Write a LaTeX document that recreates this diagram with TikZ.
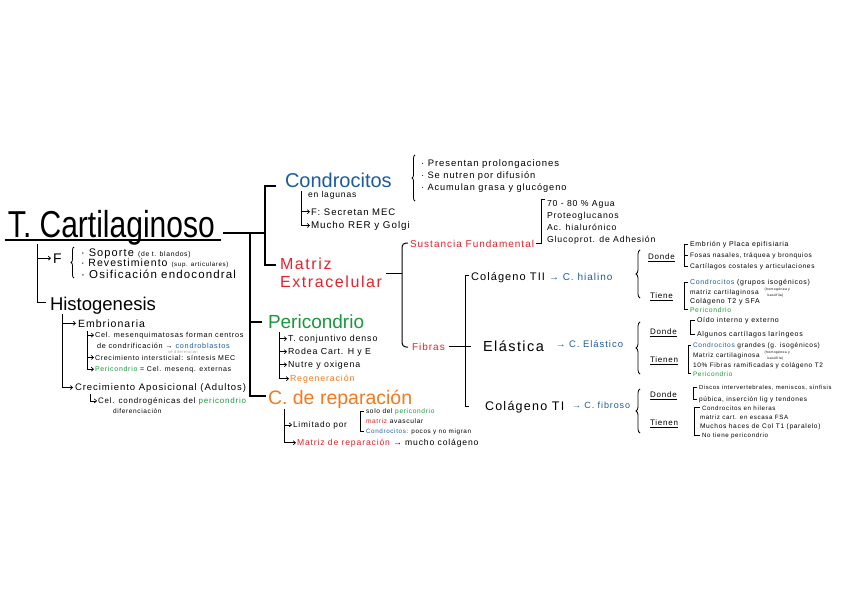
\documentclass[tikz,border=0pt]{standalone}
\usepackage{fontspec}
\setmainfont{Liberation Sans}[LetterSpace=10]
\newfontfamily\plainfont{Liberation Sans}
\usetikzlibrary{arrows.meta,decorations.pathreplacing}
\definecolor{cblue}{HTML}{1C5C9C}
\definecolor{cred}{HTML}{E3222C}
\definecolor{cgreen}{HTML}{1B973D}
\definecolor{corange}{HTML}{F27A1F}
\newcommand{\myfs}[1]{\fontsize{#1}{#1}\selectfont}
\tikzset{
  tx/.style={anchor=base west, inner sep=0pt, outer sep=0pt},
  hd/.style={tx, font=\plainfont\myfs{#1}},
  sz/.style={tx, font=\myfs{#1}},
  thickline/.style={line width=1.8pt},
  midline/.style={line width=1pt},
  thinline/.style={line width=0.7pt},
  ar/.style={line width=0.7pt, -{Straight Barb[length=2.2pt,width=4pt]}},
  brc/.style={decorate, decoration={brace, amplitude=#1}, line width=0.8pt},
  ul/.style={line width=0.7pt},
}
\begin{document}
\begin{tikzpicture}[x=1pt,y=-1pt]
\path[use as bounding box, fill=white] (0,0) rectangle (848,599);

% ---------- title and main structure
\node[hd=30] (title) at (8,237) {\scalebox{1}[1.25]{T. Cartilaginoso}};
\draw[line width=1.4pt] ([xshift=-3pt,yshift=-3pt]title.base west) -- ([xshift=6pt,yshift=-3pt]title.base east);
\coordinate (J) at (250,233);
\coordinate (K) at (265,233);
\draw[thickline] ([xshift=8pt]title.east |- J) -- (K);
\draw[thickline] (250,233) -- (250,396) -- (266,396);
\draw[thickline] (250,322) -- (262,322);
\draw[thickline] (276,186) -- (265,186) -- (265,265) -- (276,265);

% ---------- left column
\node[sz=14] (F) at (53,263) {F};
\draw[thinline] (37,244) -- (37,302) -- (46,302);
\draw[ar] (37,0 |- F.west) -- ([xshift=-2pt]F.west);
\draw[brc=3pt] (74,278) -- (74,247);
\node[sz=11] (f1) at (81,256) {· Soporte {\myfs{6.8}(de t. blandos)}};
\node[sz=10.5] (f2) at (81,266) {· Revestimiento {\myfs{6.2}(sup. articulares)}};
\node[sz=11.5] (f3) at (81,278) {· Osificación endocondral};

\node[hd=18.5] (histo) at (50,310) {Histogenesis};
\node[sz=10.5] (emb) at (78,327) {Embrionaria};
\node[sz=9.5] (apo) at (75,390) {Crecimiento Aposicional (Adultos)};
\draw[ar] (62,314) |- ([xshift=-2pt]apo.west);
\draw[ar] (62,0 |- emb.west) -- ([xshift=-2pt]emb.west);

\node[sz=7.3] (e1) at (95,337) {Cel. mesenquimatosas forman centros};
\node[sz=7.3] (e1b) at (97,348) {de condrificación → \textcolor{cblue}{condroblastos}};
\node[sz=4, text=black!35] (e1c) at (168,353) {se diferencian};
\node[sz=7] (e2) at (95,360) {Crecimiento intersticial: síntesis MEC};
\node[sz=7] (e3) at (95,371) {\textcolor{cgreen}{Pericondrio} = Cel. mesenq. externas};
\draw[ar] (87,331) |- ([xshift=-1pt]e3.west);
\draw[ar] (87,0 |- e1.west) -- ([xshift=-1pt]e1.west);
\draw[ar] (87,0 |- e2.west) -- ([xshift=-1pt]e2.west);

\node[sz=8] (a1) at (98,403) {Cel. condrogénicas del \textcolor{cgreen}{pericondrio}};
\node[sz=6.5] (a2) at (113,413) {diferenciación};
\draw[ar] (90,394) |- ([xshift=-1pt]a1.west);

% ---------- Condrocitos
\node[hd=20, text=cblue] (cond) at (285,187) {Condrocitos};
\node[sz=8.5] (lag) at (308,197) {en lagunas};
\node[sz=9.5] (c1) at (311,215) {F: Secretan MEC};
\node[sz=9.8] (c2) at (311,228) {Mucho RER y Golgi};
\draw[ar] (301,191) |- ([xshift=-1pt]c2.west);
\draw[ar] (301,0 |- c1.west) -- ([xshift=-1pt]c1.west);

\draw[brc=3pt] (415,201) -- (415,155);
\node[sz=9.5] (p1) at (421,166) {· Presentan prolongaciones};
\node[sz=9.3] (p2) at (421,178) {· Se nutren por difusión};
\node[sz=9.2] (p3) at (421,190) {· Acumulan grasa y glucógeno};

% ---------- Matriz extracelular
\node[sz=16, text=cred] (mat1) at (280,269) {Matriz};
\node[sz=16, text=cred] (mat2) at (280,287) {Extracelular};
\draw[midline] (386,273) -- (402,273);
\draw[midline, rounded corners=4pt] (408,243) -- (402,243) -- (402,347) -- (408,347);
\node[sz=10, text=cred] (sf) at (410,247) {Sustancia Fundamental};
\node[sz=10, text=cred] (fib) at (412,350) {Fibras};

\draw[thinline] ([xshift=2pt]sf.east) -- (541,0 |- sf.east) -- (541,199) -- (545,199);
\node[sz=8.7] (s1) at (547,206) {70 - 80 \% Agua};
\node[sz=8.7] (s2) at (547,218) {Proteoglucanos};
\node[sz=8.7] (s3) at (547,230) {Ac. hialurónico};
\node[sz=8.7] (s4) at (547,242) {Glucoprot. de Adhesión};

\draw[midline] ([xshift=4pt]fib.east) -- (471,0 |- fib.east);
\draw[midline] (469,275) -- (465,275) -- (465,406) -- (469,406);
\node[sz=11] (col2) at (471,280) {Colágeno TII};
\node[sz=10, text=cblue] (hial) at (549,280) {→ C. hialino};
\node[sz=14.5] (elas) at (483,351) {Elástica};
\node[sz=9.5, text=cblue] (elco) at (556,347) {→ C. Elástico};
\node[sz=12.5] (col1) at (485,410) {Colágeno TI};
\node[sz=9, text=cblue] (fibr) at (572,408) {→ C. fibroso};

% ---------- hialino
\draw[brc=4pt] (640,298) -- (640,250);
\node[sz=8] (d1) at (648,259) {Donde};
\draw[ul] ([yshift=-2pt]d1.base west) -- ([yshift=-2pt]d1.base east);
\node[sz=8] (t1) at (650,298) {Tiene};
\draw[ul] ([yshift=-2pt]t1.base west) -- ([yshift=-2pt]t1.base east);
\node[sz=7] (h1) at (690,246) {Embrión y Placa epifisiaria};
\node[sz=6.5] (h2) at (690,257) {Fosas nasales, tráquea y bronquios};
\node[sz=6.6] (h3) at (690,268) {Cartílagos costales y articulaciones};
\draw[thinline] ([xshift=-2pt]h1.west) -- (684,0 |- h1.west) -- (684,0 |- h3.west) -- ([xshift=-2pt]h3.west);
\draw[thinline] (684,0 |- h2.west) -- ([xshift=-2pt]h2.west);
\node[sz=7] (h4) at (690,284) {\textcolor{cblue}{Condrocitos} (grupos isogénicos)};
\node[sz=6.6] (h5) at (690,294) {matriz cartilaginosa};
\node[sz=3.4] (h5a) at ([xshift=6pt,yshift=3.4pt]h5.base east) {(homogénea y};
\node[sz=3.4] (h5b) at ([xshift=9pt,yshift=-2pt]h5.base east) {basófila)};
\node[sz=7] (h6) at (690,303) {Colágeno T2 y SFA};
\node[sz=6.8, text=cgreen] (h7) at (690,312) {Pericondrio};
\draw[thinline] ([xshift=-2pt]h4.west) -- (684,0 |- h4.west) -- (684,0 |- h7.west) -- ([xshift=-2pt]h7.west);

% ---------- elastico
\draw[brc=4pt] (640,374) -- (640,322);
\node[sz=8] (d2) at (650,334) {Donde};
\draw[ul] ([yshift=-2pt]d2.base west) -- ([yshift=-2pt]d2.base east);
\node[sz=8] (t2) at (650,362) {Tienen};
\draw[ul] ([yshift=-2pt]t2.base west) -- ([yshift=-2pt]t2.base east);
\node[sz=7] (e21) at (697,322) {Oído interno y externo};
\node[sz=7] (e22) at (697,336) {Algunos cartílagos laríngeos};
\draw[thinline] ([xshift=-2pt]e21.west) -- (690,0 |- e21.west) -- (690,0 |- e22.west) -- ([xshift=-2pt]e22.west);
\node[sz=6.6] (e23) at (693,347) {\textcolor{cblue}{Condrocitos} grandes (g. isogénicos)};
\node[sz=6.4] (e24) at (693,357) {Matriz cartilaginosa};
\node[sz=3.4] (e24a) at ([xshift=5pt,yshift=3.4pt]e24.base east) {(homogénea y};
\node[sz=3.4] (e24b) at ([xshift=8pt,yshift=-2pt]e24.base east) {basófila)};
\node[sz=6.5] (e25) at (693,367) {10\% Fibras ramificadas y colágeno T2};
\node[sz=6.5, text=cgreen] (e26) at (693,376) {Pericondrio};
\draw[thinline] ([xshift=-2pt]e23.west) -- (688,0 |- e23.west) -- (688,0 |- e26.west) -- ([xshift=-2pt]e26.west);

% ---------- fibroso
\draw[brc=4pt] (640,433) -- (640,389);
\node[sz=8] (d3) at (650,397) {Donde};
\draw[ul] ([yshift=-2pt]d3.base west) -- ([yshift=-2pt]d3.base east);
\node[sz=8] (t3) at (650,425) {Tienen};
\draw[ul] ([yshift=-2pt]t3.base west) -- ([yshift=-2pt]t3.base east);
\node[sz=5.9] (f31) at (699,389) {Discos intervertebrales, meniscos, sínfisis};
\node[sz=6.5] (f32) at (699,401) {púbica, inserción lig y tendones};
\draw[thinline] ([xshift=-2pt]f31.west) -- (693,0 |- f31.west) -- (693,0 |- f32.west) -- ([xshift=-2pt]f32.west);
\node[sz=6.2] (f33) at (702,410) {Condrocitos en hileras};
\node[sz=6.2] (f34) at (700,419) {matriz cart. en escasa FSA};
\node[sz=6.6] (f35) at (700,428) {Muchos haces de Col T1 (paralelo)};
\node[sz=6.2] (f36) at (702,437) {No tiene pericondrio};
\draw[thinline] ([xshift=-2pt]f33.west) -- (694,0 |- f33.west) -- (694,0 |- f36.west) -- ([xshift=-2pt]f36.west);

% ---------- Pericondrio
\node[hd=19, text=cgreen] (peri) at (268,328) {Pericondrio};
\node[sz=8.8] (pe1) at (288,341) {T. conjuntivo denso};
\node[sz=8.8] (pe2) at (288,354) {Rodea Cart. H y E};
\node[sz=8.8] (pe3) at (288,367) {Nutre y oxigena};
\node[sz=8.8, text=corange] (pe4) at (290,381) {Regeneración};
\draw[ar] (279,332) |- ([xshift=-1pt]pe4.west);
\draw[ar] (279,0 |- pe1.west) -- ([xshift=-1pt]pe1.west);
\draw[ar] (279,0 |- pe2.west) -- ([xshift=-1pt]pe2.west);
\draw[ar] (279,0 |- pe3.west) -- ([xshift=-1pt]pe3.west);

% ---------- C. de reparacion
\node[hd=19.5, text=corange] (rep) at (268,404) {C. de reparación};
\node[sz=8.3] (r1) at (293,427) {Limitado por};
\node[sz=6.6] (r11) at (366,413) {solo del \textcolor{cgreen}{pericondrio}};
\node[sz=6.6] (r12) at (366,423) {\textcolor{cred}{matriz} avascular};
\node[sz=6.3] (r13) at (366,433) {\textcolor{cblue}{Condrocitos:} pocos y no migran};
\draw[thinline] ([xshift=-2pt]r11.west) -- (360,0 |- r11.west) -- (360,0 |- r13.west) -- ([xshift=-2pt]r13.west);
\node[sz=8.6] (r2) at (297,445) {\textcolor{cred}{Matriz de reparación} → mucho colágeno};
\draw[ar] (284,409) |- ([xshift=-1pt]r2.west);
\draw[ar] (284,0 |- r1.west) -- ([xshift=-1pt]r1.west);
\end{tikzpicture}
\end{document}
